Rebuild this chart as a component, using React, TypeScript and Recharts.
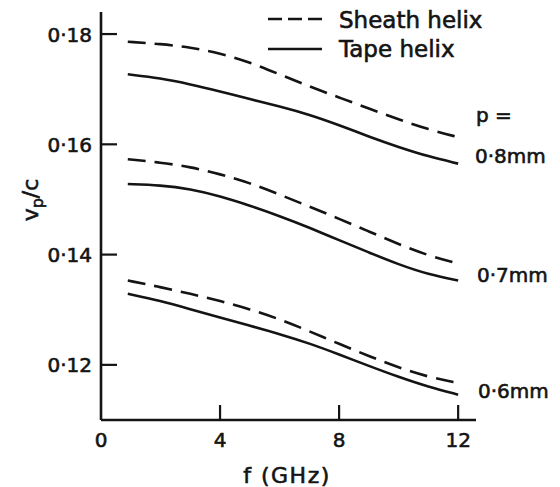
import { LineChart, Line, XAxis, YAxis, Legend, Customized } from 'recharts'

const INK = '#141414'
const FONT = '"DejaVu Sans", sans-serif'

// frequency in GHz
const freq = [0.9, 2, 3, 4, 5, 6, 7, 8, 9, 10, 11, 12]

// vp/c
const sheath08 = [0.1786, 0.1782, 0.1776, 0.1765, 0.1749, 0.1727, 0.1705, 0.1685, 0.1665, 0.1645, 0.1627, 0.1613]
const tape08 = [0.1727, 0.172, 0.1709, 0.1696, 0.1682, 0.1669, 0.1654, 0.1635, 0.1614, 0.1595, 0.1578, 0.1565]
const sheath07 = [0.1573, 0.1567, 0.1559, 0.1546, 0.153, 0.1509, 0.1487, 0.1465, 0.1442, 0.1419, 0.1398, 0.1384]
const tape07 = [0.1528, 0.1526, 0.1519, 0.1506, 0.1489, 0.147, 0.1449, 0.1426, 0.1404, 0.1382, 0.1364, 0.1353]
const sheath06 = [0.1353, 0.1341, 0.1329, 0.1316, 0.1301, 0.1283, 0.1261, 0.1238, 0.1216, 0.1195, 0.1178, 0.1167]
const tape06 = [0.1329, 0.1316, 0.1301, 0.1286, 0.1271, 0.1256, 0.1239, 0.1219, 0.1198, 0.1178, 0.116, 0.1146]

const xTicks = [0, 4, 8, 12]
const yTicks = [0.12, 0.14, 0.16, 0.18]
const pitchLabels = ['0·8mm', '0·7mm', '0·6mm']

const data = freq.map((f, i) => ({
    f,
    s08: sheath08[i],
    t08: tape08[i],
    s07: sheath07[i],
    t07: tape07[i],
    s06: sheath06[i],
    t06: tape06[i],
}))

const textStyle = { fontFamily: FONT, fill: INK, stroke: INK, strokeWidth: 0.6 }

const YTick = ({ x, y, payload }: any) => (
    <g>
        <line x1={x} y1={y} x2={x + 16} y2={y} stroke={INK} strokeWidth={2.2} />
        <text x={x - 9} y={y} dy={7.5} textAnchor="end" fontSize={20} style={textStyle}>
            {Number(payload.value).toFixed(2).replace('.', '·')}
        </text>
    </g>
)

const XTick = ({ x, y, payload }: any) => (
    <g>
        {payload.value !== 0 && <line x1={x} y1={y} x2={x} y2={y - 15} stroke={INK} strokeWidth={2.2} />}
        <text x={x} y={y + 27} textAnchor="middle" fontSize={20} style={textStyle}>
            {payload.value}
        </text>
    </g>
)

const LegendBox = () => (
    <svg width={560} height={70} style={{ display: 'block' }}>
        <line x1={268} y1={19} x2={322} y2={19} stroke={INK} strokeWidth={2.6} strokeDasharray="14 6" />
        <text x={339} y={28} fontSize={23} style={textStyle}>Sheath helix</text>
        <line x1={268} y1={49} x2={322} y2={49} stroke={INK} strokeWidth={2.6} />
        <text x={339} y={57} fontSize={23} style={textStyle}>Tape helix</text>
    </svg>
)

const Annotations = () => (
    <g style={textStyle}>
        <text x={38} y={200} transform="rotate(-90 38 200)" textAnchor="middle" fontSize={22}>
            v<tspan fontSize={16} dy={5}>p</tspan>
            <tspan dy={-5}>/c</tspan>
        </text>
        <text x={287} y={483} textAnchor="middle" fontSize={22} letterSpacing={1.5}>f (GHz)</text>
        <text x={476} y={122} fontSize={20}>p =</text>
        <text x={475} y={163} fontSize={20}>{pitchLabels[0]}</text>
        <text x={477} y={282} fontSize={20}>{pitchLabels[1]}</text>
        <text x={478} y={398} fontSize={20}>{pitchLabels[2]}</text>
    </g>
)

export default function App() {
    return (
        <div style={{ width: 560, height: 487, background: '#fff' }}>
            <style>{'body{margin:0}'}</style>
            <LineChart width={560} height={487} data={data} margin={{ top: 12, right: 84, bottom: 37, left: 41 }}>
                <XAxis
                    dataKey="f"
                    type="number"
                    domain={[0, 12.6]}
                    ticks={xTicks}
                    height={30}
                    tickSize={0}
                    tickMargin={0}
                    tickLine={false}
                    axisLine={{ stroke: INK, strokeWidth: 2.6 }}
                    tick={<XTick />}
                    interval={0}
                />
                <YAxis
                    type="number"
                    domain={[0.11, 0.184]}
                    ticks={yTicks}
                    width={60}
                    tickSize={0}
                    tickMargin={0}
                    tickLine={false}
                    axisLine={{ stroke: INK, strokeWidth: 2.6 }}
                    tick={<YTick />}
                    interval={0}
                    allowDataOverflow
                />
                <Legend
                    content={<LegendBox />}
                    layout="horizontal"
                    verticalAlign="middle"
                    align="center"
                    wrapperStyle={{ left: 0, top: 0, width: 560, height: 70 }}
                />
                <Line type="basis" dataKey="s08" name="Sheath helix" stroke={INK} strokeWidth={2.6} strokeDasharray="18 9" dot={false} isAnimationActive={false} />
                <Line type="basis" dataKey="t08" name="Tape helix" stroke={INK} strokeWidth={2.6} dot={false} isAnimationActive={false} />
                <Line type="basis" dataKey="s07" stroke={INK} strokeWidth={2.6} strokeDasharray="18 9" dot={false} isAnimationActive={false} />
                <Line type="basis" dataKey="t07" stroke={INK} strokeWidth={2.6} dot={false} isAnimationActive={false} />
                <Line type="basis" dataKey="s06" stroke={INK} strokeWidth={2.6} strokeDasharray="18 9" dot={false} isAnimationActive={false} />
                <Line type="basis" dataKey="t06" stroke={INK} strokeWidth={2.6} dot={false} isAnimationActive={false} />
                <Customized component={Annotations} />
            </LineChart>
        </div>
    )
}
